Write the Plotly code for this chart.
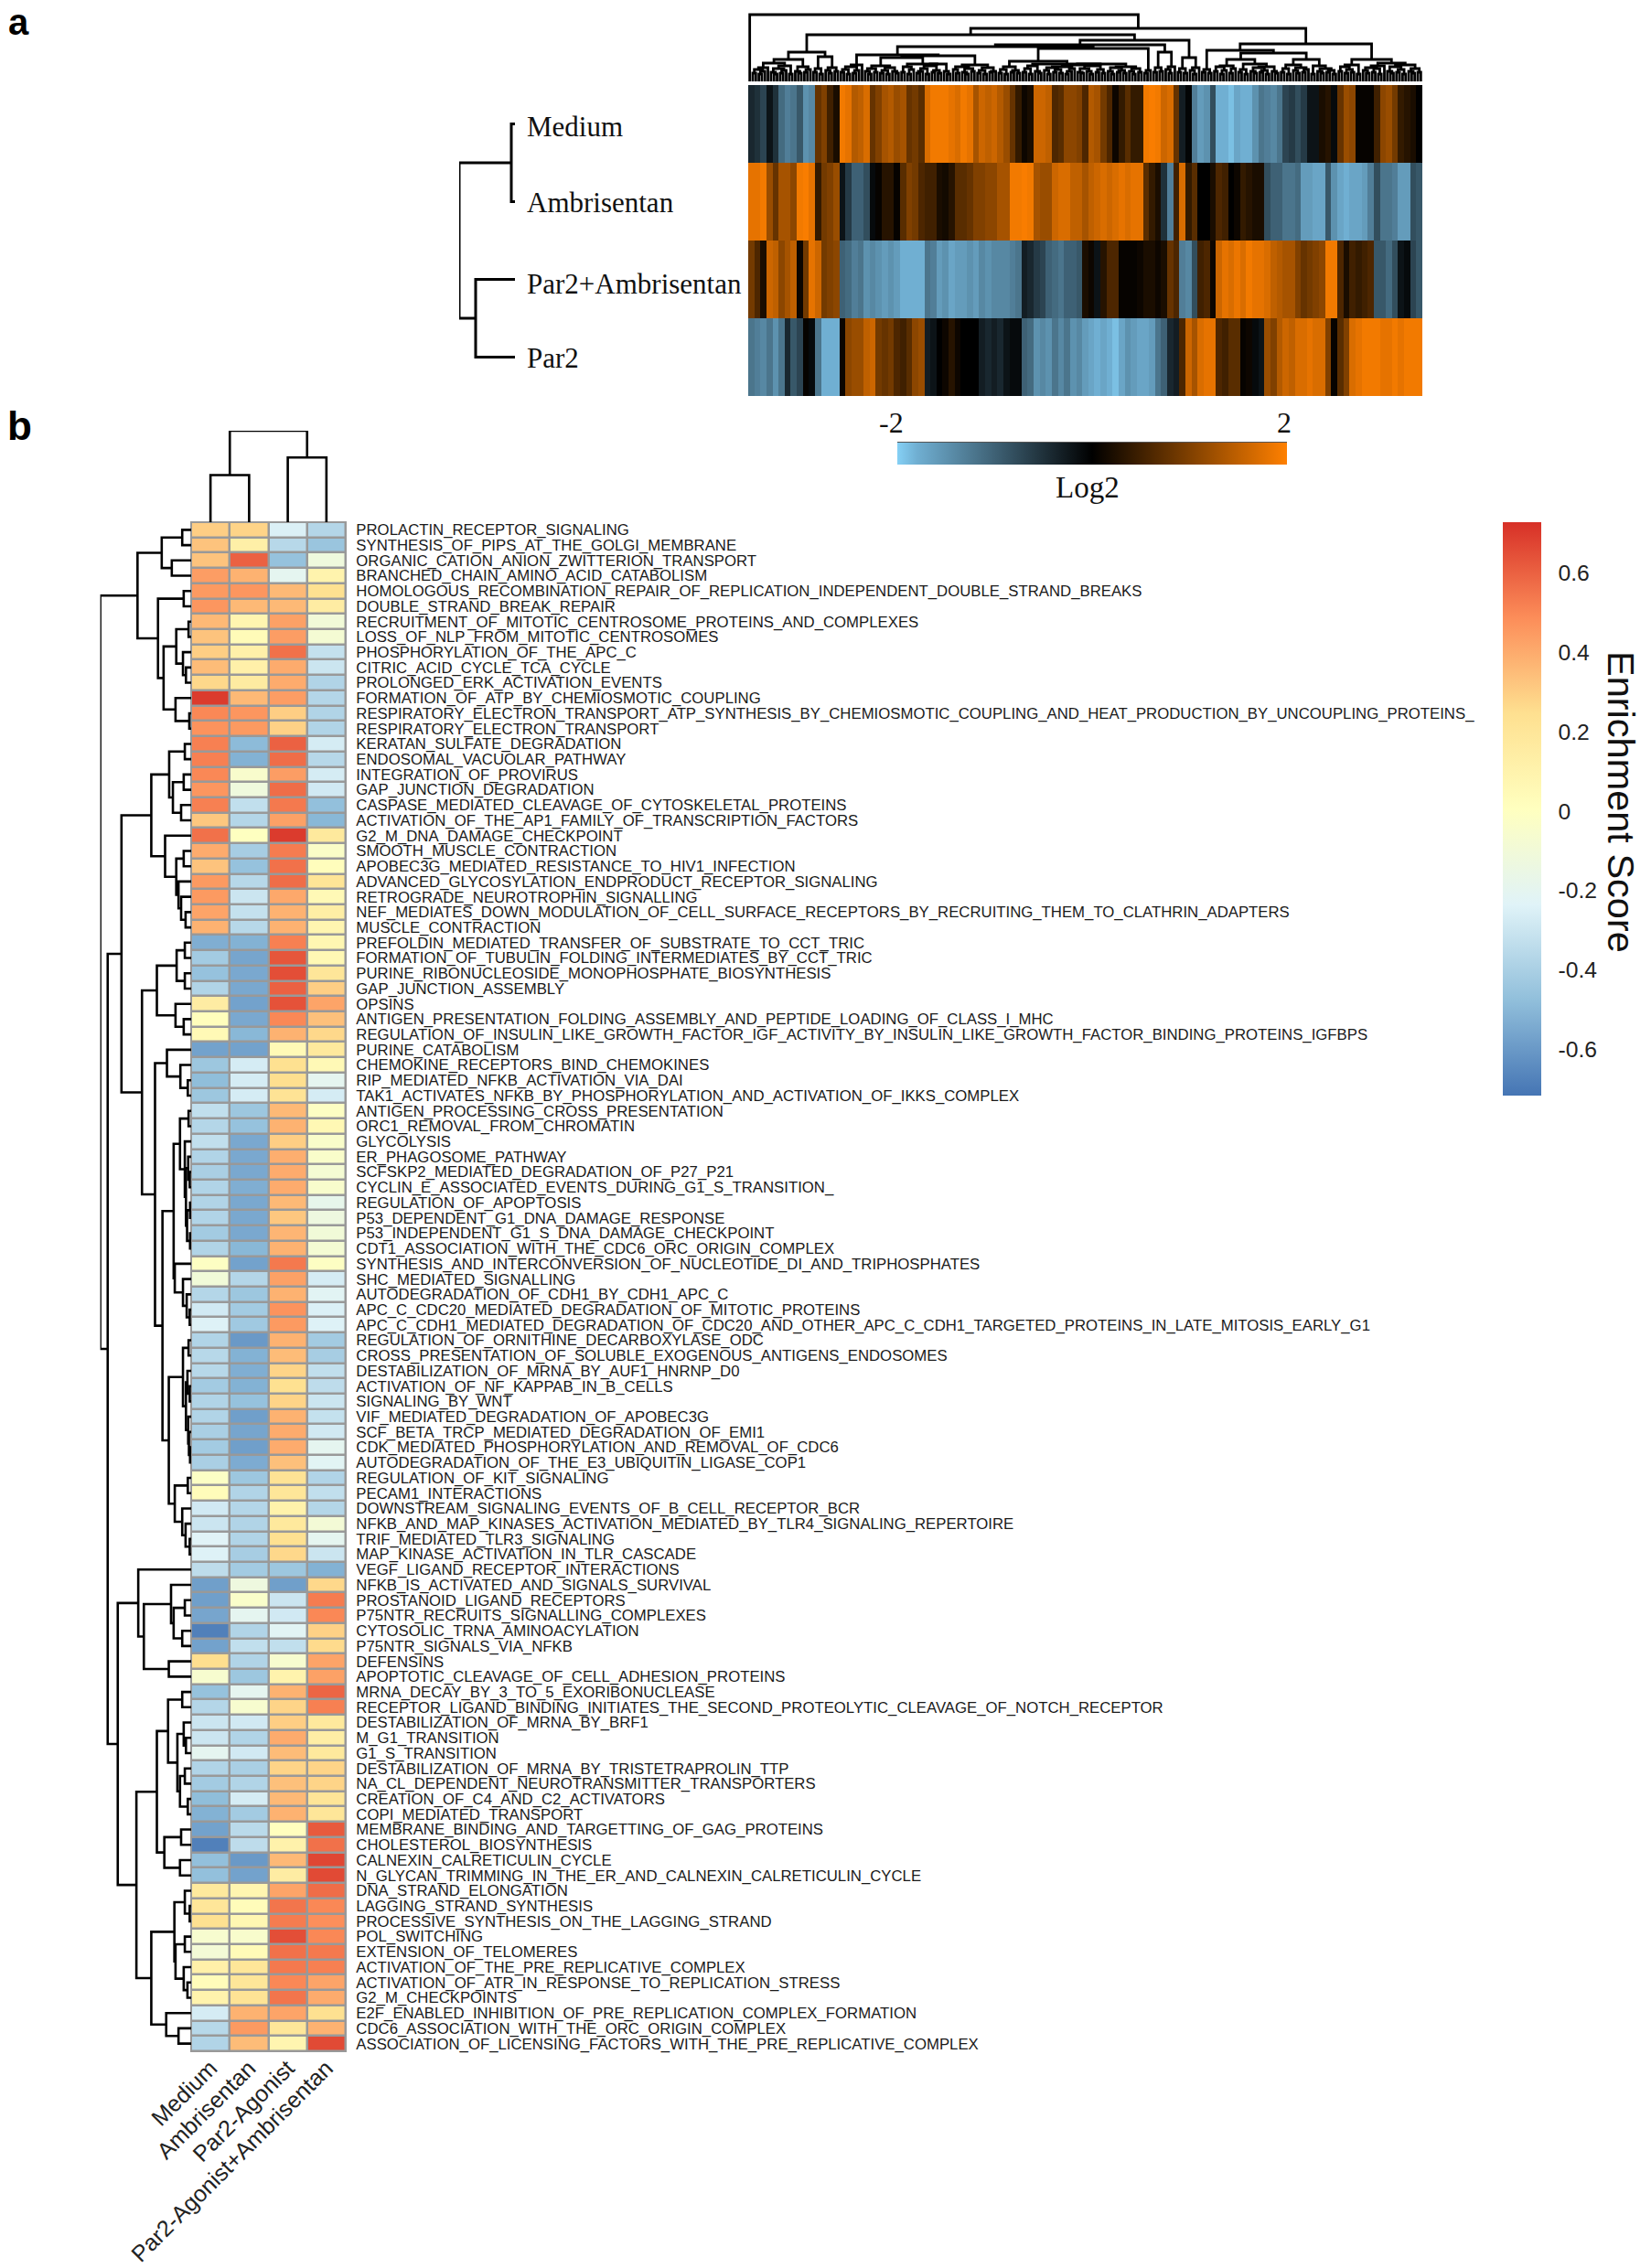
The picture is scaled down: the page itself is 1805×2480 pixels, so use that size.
import plotly.graph_objects as go

W, H = 1805, 2480

# ---------- panel a data ----------
sample_labels = ["Medium", "Ambrisentan", "Par2+Ambrisentan", "Par2"]
log2_medium = [-0.4,-0.5,-0.7,-0.2,-0.5,-1.1,-1.3,-1.2,-0.9,-1.5,-1.4,0.8,1.0,0.5,0.2,1.9,1.8,1.4,1.5,1.7,0.8,1.0,1.3,1.4,1.2,1.3,0.8,0.9,0.7,1.7,1.9,1.9,1.9,1.8,1.7,1.9,1.8,1.3,1.6,1.5,1.6,1.4,1.2,0.8,0.4,0.1,0.2,1.6,1.6,1.5,0.6,0.7,1.1,1.1,1.0,0.6,
               1.4,1.3,0.9,0.6,0.1,0.4,0.7,0.4,0.4,1.9,1.95,1.9,1.6,1.7,0.8,-0.3,-0.05,-1.3,-1.6,-1.5,-0.8,-1.8,-1.8,-1.9,-1.7,-1.8,-1.8,-1.5,-1.2,-1.3,-1.4,-1.2,-0.7,-0.6,-0.8,-0.6,-0.2,-0.2,0.2,0.3,-0.1,0.8,1.2,1.1,0.05,0.05,0.05,0.5,1.1,1.2,0.9,0.4,0.3,0.2,0.0]
log2_ambrisentan = [1.8,1.8,1.9,1.2,0.8,1.3,1.3,1.1,1.9,1.95,1.8,0.4,0.9,1.0,1.2,-0.2,-0.6,-1.0,-1.0,-0.8,-0.1,0.05,0.3,0.3,0.05,0.7,1.0,0.9,0.6,0.5,0.5,0.2,0.15,0.3,0.7,0.7,0.8,1.0,1.0,1.1,1.1,1.3,1.3,1.9,1.9,1.95,1.9,1.3,1.2,1.2,1.6,1.7,1.7,1.5,1.5,1.3,
                    1.5,1.6,1.7,1.6,1.7,1.8,1.7,1.8,1.8,0.7,0.4,0.2,-0.5,-1.3,0.5,1.7,0.4,0.7,0.0,0.0,0.2,0.6,0.5,0.0,0.1,0.4,0.3,0.2,0.2,-0.8,-1.0,-1.0,-1.2,-1.2,-1.1,-1.6,-1.6,-1.7,-1.7,-0.9,-1.5,-1.7,-1.8,-1.7,-1.7,-1.6,-1.3,-0.8,-1.2,-1.2,-1.3,-1.6,-1.6,-0.8,-0.9]
log2_par2_ambrisentan = [0.9,0.6,0.2,1.6,1.5,1.1,1.3,1.5,0.1,0.9,1.8,1.6,0.9,1.0,1.1,-1.0,-1.1,-1.3,-1.2,-1.5,-1.4,-1.5,-1.6,-1.5,-1.6,-1.8,-1.8,-1.8,-1.8,-1.2,-1.3,-1.6,-1.5,-1.7,-1.6,-1.6,-1.5,-1.6,-1.4,-1.5,-1.4,-1.4,-1.4,-1.3,-1.2,-0.3,-0.4,-0.6,-0.7,-1.0,-1.1,-1.2,-1.0,-1.0,-0.9,0.2,
                         0.1,-0.2,0.3,0.6,0.6,0.05,0.05,0.05,0.1,0.2,0.2,0.1,0.2,0.8,0.6,-1.3,-1.4,-0.8,0.5,0.6,0.1,1.6,1.8,1.7,1.85,1.7,1.9,1.8,1.8,1.7,1.5,1.4,1.3,1.3,1.0,0.8,0.9,1.0,1.1,1.9,1.9,0.6,0.2,0.5,0.4,0.5,0.6,-0.9,-0.9,-1.1,-0.8,-0.2,-0.1,-0.7,-0.9]
log2_par2 = [-1.2,-1.3,-1.4,-1.2,-1.5,-1.2,-0.4,-0.9,-0.7,0.05,-0.1,-1.2,-1.8,-1.8,-1.8,0.1,1.1,1.2,1.2,1.5,1.6,0.9,0.8,0.9,0.6,0.5,0.7,1.1,1.2,-0.3,-0.2,0.0,0.1,0.3,0.1,0.0,0.0,0.0,-0.3,-0.4,-0.3,-0.4,-0.2,-0.1,-0.1,-1.0,-1.1,-1.5,-1.4,-1.5,-1.2,-1.4,-1.2,-1.5,-1.4,-1.6,
             -1.7,-1.8,-1.7,-1.8,-1.9,-1.7,-1.5,-1.6,-1.7,-1.7,-1.6,-1.2,-1.0,-0.4,-0.3,0.6,1.6,1.3,1.7,1.8,1.8,0.6,0.5,0.7,0.7,0.05,0.1,-0.1,-0.2,1.2,1.0,1.4,1.6,1.5,1.7,1.7,1.8,1.7,1.7,1.0,0.05,0.7,1.0,1.7,1.8,1.9,1.9,1.9,1.8,1.8,1.9,1.8,1.9,1.9,1.9]

# merge heights between neighbouring leaves of the gene dendrogram
gene_merge_heights = [
    73,9,13,8,11,15,20,10,8,14, 9,12,17,8,24,11,9,16,10,13, 32,10,14,8,27,12,9,15,11,51,
    10,13,8,16,9,12,18,29,11,8, 14,10,17,9,12,8,15,11,9,26, 10,16,8,13,19,9,11,14,8,17,
    10,12,9,19,11,8,28,13,9,16, 10,8,14,11,18,9,12,8,15,10, 11,38,9,13,8,16,10,12,9,22,
    10,14,8,17,11,9,19,12,8,15, 10,13,9,16,8,11,14,18,10,9, 14,11,8,17,10,13,9,19,11,8,
    15,10,12,9,16,11,8,14,10,36, 9,12,40,10,15,11,32,13,9,16, 45,10,14,9,26,12,8,15,58,10,
    13,9,34,11,16,8,12,17,9,14, 24,10,13,8,19,11,9,15,10,12, 8,16,11,9,31,10,14,8,18,12,
    9,15,10,13,24,8,17,11,9,14, 10,12,8,41,11,16,9,13,10,18, 8,24,12,9,15,10,14,8,17,20,
    11,9,16,10,13,8,18,11,9,14, 10]

sample_tree = ((0, 1, 4), (2, 3, 43), 61)

# ---------- panel b data ----------
conditions = ["Medium", "Ambrisentan", "Par2-Agonist", "Par2-Agonist+Ambrisentan"]
pathways = ["PROLACTIN_RECEPTOR_SIGNALING","SYNTHESIS_OF_PIPS_AT_THE_GOLGI_MEMBRANE","ORGANIC_CATION_ANION_ZWITTERION_TRANSPORT","BRANCHED_CHAIN_AMINO_ACID_CATABOLISM",
"HOMOLOGOUS_RECOMBINATION_REPAIR_OF_REPLICATION_INDEPENDENT_DOUBLE_STRAND_BREAKS","DOUBLE_STRAND_BREAK_REPAIR","RECRUITMENT_OF_MITOTIC_CENTROSOME_PROTEINS_AND_COMPLEXES","LOSS_OF_NLP_FROM_MITOTIC_CENTROSOMES",
"PHOSPHORYLATION_OF_THE_APC_C","CITRIC_ACID_CYCLE_TCA_CYCLE","PROLONGED_ERK_ACTIVATION_EVENTS","FORMATION_OF_ATP_BY_CHEMIOSMOTIC_COUPLING",
"RESPIRATORY_ELECTRON_TRANSPORT_ATP_SYNTHESIS_BY_CHEMIOSMOTIC_COUPLING_AND_HEAT_PRODUCTION_BY_UNCOUPLING_PROTEINS_","RESPIRATORY_ELECTRON_TRANSPORT","KERATAN_SULFATE_DEGRADATION","ENDOSOMAL_VACUOLAR_PATHWAY",
"INTEGRATION_OF_PROVIRUS","GAP_JUNCTION_DEGRADATION","CASPASE_MEDIATED_CLEAVAGE_OF_CYTOSKELETAL_PROTEINS","ACTIVATION_OF_THE_AP1_FAMILY_OF_TRANSCRIPTION_FACTORS",
"G2_M_DNA_DAMAGE_CHECKPOINT","SMOOTH_MUSCLE_CONTRACTION","APOBEC3G_MEDIATED_RESISTANCE_TO_HIV1_INFECTION","ADVANCED_GLYCOSYLATION_ENDPRODUCT_RECEPTOR_SIGNALING",
"RETROGRADE_NEUROTROPHIN_SIGNALLING","NEF_MEDIATES_DOWN_MODULATION_OF_CELL_SURFACE_RECEPTORS_BY_RECRUITING_THEM_TO_CLATHRIN_ADAPTERS","MUSCLE_CONTRACTION","PREFOLDIN_MEDIATED_TRANSFER_OF_SUBSTRATE_TO_CCT_TRIC",
"FORMATION_OF_TUBULIN_FOLDING_INTERMEDIATES_BY_CCT_TRIC","PURINE_RIBONUCLEOSIDE_MONOPHOSPHATE_BIOSYNTHESIS","GAP_JUNCTION_ASSEMBLY","OPSINS",
"ANTIGEN_PRESENTATION_FOLDING_ASSEMBLY_AND_PEPTIDE_LOADING_OF_CLASS_I_MHC","REGULATION_OF_INSULIN_LIKE_GROWTH_FACTOR_IGF_ACTIVITY_BY_INSULIN_LIKE_GROWTH_FACTOR_BINDING_PROTEINS_IGFBPS","PURINE_CATABOLISM","CHEMOKINE_RECEPTORS_BIND_CHEMOKINES",
"RIP_MEDIATED_NFKB_ACTIVATION_VIA_DAI","TAK1_ACTIVATES_NFKB_BY_PHOSPHORYLATION_AND_ACTIVATION_OF_IKKS_COMPLEX","ANTIGEN_PROCESSING_CROSS_PRESENTATION","ORC1_REMOVAL_FROM_CHROMATIN",
"GLYCOLYSIS","ER_PHAGOSOME_PATHWAY","SCFSKP2_MEDIATED_DEGRADATION_OF_P27_P21","CYCLIN_E_ASSOCIATED_EVENTS_DURING_G1_S_TRANSITION_",
"REGULATION_OF_APOPTOSIS","P53_DEPENDENT_G1_DNA_DAMAGE_RESPONSE","P53_INDEPENDENT_G1_S_DNA_DAMAGE_CHECKPOINT","CDT1_ASSOCIATION_WITH_THE_CDC6_ORC_ORIGIN_COMPLEX",
"SYNTHESIS_AND_INTERCONVERSION_OF_NUCLEOTIDE_DI_AND_TRIPHOSPHATES","SHC_MEDIATED_SIGNALLING","AUTODEGRADATION_OF_CDH1_BY_CDH1_APC_C","APC_C_CDC20_MEDIATED_DEGRADATION_OF_MITOTIC_PROTEINS",
"APC_C_CDH1_MEDIATED_DEGRADATION_OF_CDC20_AND_OTHER_APC_C_CDH1_TARGETED_PROTEINS_IN_LATE_MITOSIS_EARLY_G1","REGULATION_OF_ORNITHINE_DECARBOXYLASE_ODC","CROSS_PRESENTATION_OF_SOLUBLE_EXOGENOUS_ANTIGENS_ENDOSOMES","DESTABILIZATION_OF_MRNA_BY_AUF1_HNRNP_D0",
"ACTIVATION_OF_NF_KAPPAB_IN_B_CELLS","SIGNALING_BY_WNT","VIF_MEDIATED_DEGRADATION_OF_APOBEC3G","SCF_BETA_TRCP_MEDIATED_DEGRADATION_OF_EMI1",
"CDK_MEDIATED_PHOSPHORYLATION_AND_REMOVAL_OF_CDC6","AUTODEGRADATION_OF_THE_E3_UBIQUITIN_LIGASE_COP1","REGULATION_OF_KIT_SIGNALING","PECAM1_INTERACTIONS",
"DOWNSTREAM_SIGNALING_EVENTS_OF_B_CELL_RECEPTOR_BCR","NFKB_AND_MAP_KINASES_ACTIVATION_MEDIATED_BY_TLR4_SIGNALING_REPERTOIRE","TRIF_MEDIATED_TLR3_SIGNALING","MAP_KINASE_ACTIVATION_IN_TLR_CASCADE",
"VEGF_LIGAND_RECEPTOR_INTERACTIONS","NFKB_IS_ACTIVATED_AND_SIGNALS_SURVIVAL","PROSTANOID_LIGAND_RECEPTORS","P75NTR_RECRUITS_SIGNALLING_COMPLEXES",
"CYTOSOLIC_TRNA_AMINOACYLATION","P75NTR_SIGNALS_VIA_NFKB","DEFENSINS","APOPTOTIC_CLEAVAGE_OF_CELL_ADHESION_PROTEINS",
"MRNA_DECAY_BY_3_TO_5_EXORIBONUCLEASE","RECEPTOR_LIGAND_BINDING_INITIATES_THE_SECOND_PROTEOLYTIC_CLEAVAGE_OF_NOTCH_RECEPTOR","DESTABILIZATION_OF_MRNA_BY_BRF1","M_G1_TRANSITION",
"G1_S_TRANSITION","DESTABILIZATION_OF_MRNA_BY_TRISTETRAPROLIN_TTP","NA_CL_DEPENDENT_NEUROTRANSMITTER_TRANSPORTERS","CREATION_OF_C4_AND_C2_ACTIVATORS",
"COPI_MEDIATED_TRANSPORT","MEMBRANE_BINDING_AND_TARGETTING_OF_GAG_PROTEINS","CHOLESTEROL_BIOSYNTHESIS","CALNEXIN_CALRETICULIN_CYCLE",
"N_GLYCAN_TRIMMING_IN_THE_ER_AND_CALNEXIN_CALRETICULIN_CYCLE","DNA_STRAND_ELONGATION","LAGGING_STRAND_SYNTHESIS","PROCESSIVE_SYNTHESIS_ON_THE_LAGGING_STRAND",
"POL_SWITCHING","EXTENSION_OF_TELOMERES","ACTIVATION_OF_THE_PRE_REPLICATIVE_COMPLEX","ACTIVATION_OF_ATR_IN_RESPONSE_TO_REPLICATION_STRESS",
"G2_M_CHECKPOINTS","E2F_ENABLED_INHIBITION_OF_PRE_REPLICATION_COMPLEX_FORMATION","CDC6_ASSOCIATION_WITH_THE_ORC_ORIGIN_COMPLEX","ASSOCIATION_OF_LICENSING_FACTORS_WITH_THE_PRE_REPLICATIVE_COMPLEX"]

score_medium = [.3,.33,.33,.44,.45,.46,.36,.33,.3,.35,.27,.7,.5,.47,.52,.52,.5,.46,.52,.32,.56,.4,.33,.45,.45,.42,.38,
    -.53,-.42,-.46,-.38,.15,.02,.05,-.57,-.44,-.48,-.44,-.33,-.37,-.33,-.38,-.4,-.38,-.38,-.38,-.42,-.38,-.01,-.1,-.37,-.28,-.24,-.38,-.36,-.36,-.42,-.38,-.38,-.4,-.42,-.4,-.02,.03,-.28,-.3,-.23,-.24,-.34,
    -.58,-.58,-.56,-.68,-.57,.25,-.06,-.46,-.37,-.3,-.3,-.2,-.38,-.42,-.48,-.52,-.57,-.68,-.47,-.47,.18,.2,.24,-.06,-.09,.12,.03,.1,-.27,-.36,-.38]
score_ambrisentan = [.28,.13,.6,.38,.46,.36,.08,.04,.12,.12,.16,.36,.46,.45,-.49,-.52,-.05,-.12,-.33,-.37,0,-.41,-.46,-.36,-.3,-.32,-.36,
    -.52,-.56,-.55,-.55,-.57,-.55,-.5,-.57,-.27,-.27,-.27,-.44,-.46,-.55,-.55,-.55,-.53,-.55,-.55,-.55,-.5,-.57,-.37,-.44,-.42,-.43,-.6,-.52,-.53,-.52,-.46,-.58,-.56,-.58,-.54,-.44,-.38,-.37,-.38,-.38,-.41,-.42,
    -.13,-.04,-.2,-.38,-.33,-.38,-.44,-.2,-.06,-.28,-.38,-.28,-.4,-.38,-.27,-.42,-.35,-.34,-.6,-.57,.08,.03,.07,-.05,.04,.2,.2,.22,.38,.45,.35]
score_par2 = [-.25,-.36,-.46,-.2,.36,.36,.43,.44,.56,.4,.4,.44,.3,.29,.6,.57,.44,.57,.54,.43,.7,.53,.56,.57,.41,.38,.38,
    .52,.63,.65,.6,.64,.5,.38,.05,.24,.25,.22,.36,.38,.3,.39,.4,.4,.36,.32,.37,.38,.54,.43,.38,.47,.45,.38,.35,.28,.24,.28,.38,.4,.4,.34,.22,.2,.11,.18,.24,.27,-.44,
    -.58,-.3,-.28,-.22,-.33,-.06,.1,.38,.28,.3,.4,.35,.28,.34,.36,.38,.01,.11,.36,.15,.42,.55,.53,.65,.56,.54,.5,.55,.42,.2,.08]
score_par2_ambrisentan = [-.37,-.45,-.12,.1,.24,.15,-.1,-.08,-.32,-.3,-.38,-.37,-.38,-.38,-.27,-.36,-.27,-.28,-.47,-.5,.18,-.03,.02,.21,.05,.14,.08,
    .07,.06,.2,.3,.42,.34,.27,.18,.05,-.2,-.27,-.01,.06,-.04,-.04,-.08,-.05,-.18,-.13,-.1,-.08,-.01,-.27,-.22,-.25,-.24,-.42,-.41,-.33,-.34,-.3,-.32,-.28,-.2,-.22,-.38,-.33,-.37,-.09,-.2,-.3,-.52,
    .27,.53,.5,.29,.26,.42,.43,.59,.52,.18,.14,.18,.28,.28,.21,.2,.62,.56,.67,.66,.57,.5,.48,.5,.54,.52,.42,.4,.24,.38,.66]
score_ticks = [-0.6, -0.4, -0.2, 0, 0.2, 0.4, 0.6]
score_tick_text = ["-0.6", "-0.4", "-0.2", "0", "0.2", "0.4", "0.6"]

condition_tree = ((0, 1, 51), (2, 3, 70), 99)

# row tree: (child, child, merge height); leaves are row numbers counted from 1
rows_1_14 = (((1,2,24),(3,4,52),79),
             ((5,6,20),(((7,8,7),(9,(10,11,14),22),40),(12,(13,14,5),42),74),89),144)
rows_15_27 = (((15,16,17),((17,18,20),(19,20,27),49),59),
              (21,((22,23,20),(24,(25,(26,27,15),27),34),40),70),107)
rows_28_34 = (((28,29,17),(30,31,17),39),(32,(33,34,20),42),92)
rows_35_38 = (35,(36,(37,38,9),29),65)
rows_39_53 = (((39,40,7),(41,((42,(43,44,4),8),((45,46,3),(47,48,3),11),14),17),30),
              (49,(50,(51,(52,53,4),12),22),44),47)
rows_54_68 = (((54,55,7),((56,(57,58,4),10),(59,(60,(61,62,3),6),8),14),22),
              ((63,64,9),(65,(66,(67,68,4),15),24),44),60)
rows_28_68 = (rows_28_34,(rows_35_38,(rows_39_53,rows_54_68,77),97),132)
rows_69_76 = (69,((70,((71,72,17),(73,74,24),47),54),(75,76,60),127),142)
rows_77_89 = (((77,78,24),((79,(80,81,14),20),((82,83,17),(84,85,9),30),37),62),
              ((86,87,27),(88,89,30),72),92)
rows_90_100 = (((90,(91,92,4),17),((93,94,17),(95,(96,97,10),20),42),45),
               (98,(99,100,34),67),107)
rows_15_68 = (rows_15_27,rows_28_68,187)
rows_69_100 = (rows_69_76,(rows_77_89,rows_90_100,147),197)
row_tree = (rows_1_14,(rows_15_68,rows_69_100,224),244)

# ---------- colour scales ----------
log2_colors = [[0,"#85D0F5"],[0.05,"#70AFD2"],[0.5,"#000000"],[1,"#FF8000"]]
score_colors = [[i/6,c] for i,c in enumerate(["#4575B4","#91BFDB","#E0F3F8","#FFFFBF","#FEE090","#FC8D59","#D73027"])]

# ---------- helpers ----------
def from_gaps(g, l, r):
    if l == r:
        return l
    k = max(range(l, r), key=lambda i: g[i])
    return (from_gaps(g, l, k), from_gaps(g, k+1, r), g[k])

def segments(node, offset=0):
    """returns leaf position, height, positions list, heights list"""
    if isinstance(node, int):
        return node-offset, 0, [], []
    pa, ha, xa, ya = segments(node[0], offset)
    pb, hb, xb, yb = segments(node[1], offset)
    h = node[2]
    return (pa+pb)/2, h, xa+xb+[pa,pa,pb,pb,None], ya+yb+[ha,h,h,hb,None]

def dx(a, b):
    return [a/W, b/W]
def dy(top, bottom):
    return [1-bottom/H, 1-top/H]

hidden = dict(visible=False, fixedrange=True, showgrid=False, zeroline=False)

fig = go.Figure()

# panel a heatmap
fig.add_trace(go.Heatmap(
    z=[log2_medium, log2_ambrisentan, log2_par2_ambrisentan, log2_par2],
    y=sample_labels, zmin=-2, zmax=2, colorscale=log2_colors, xaxis="x", yaxis="y",
    colorbar=dict(orientation="h", x=981/W, xanchor="left", y=1-484/H, yanchor="top",
                  len=426/W, lenmode="fraction", thickness=24, thicknessmode="pixels",
                  outlinewidth=0, xpad=0, ypad=0, showticklabels=False, ticks="")))

# panel a gene dendrogram
_, _, xs, ys = segments(from_gaps(gene_merge_heights, 0, len(gene_merge_heights)))
fig.add_trace(go.Scatter(x=xs, y=ys, mode="lines", line=dict(color="#000", width=2.8),
                         xaxis="x2", yaxis="y2", showlegend=False, hoverinfo="skip"))

# panel a sample dendrogram
ys, _, xs, hs = segments(sample_tree)
fig.add_trace(go.Scatter(x=hs, y=xs, mode="lines", line=dict(color="#000", width=3),
                         xaxis="x3", yaxis="y3", showlegend=False, hoverinfo="skip"))

# panel b heatmap
score_rows = [list(r) for r in zip(score_medium, score_ambrisentan, score_par2, score_par2_ambrisentan)]
fig.add_trace(go.Heatmap(
    z=score_rows, x=conditions, y=pathways, zmin=-0.717, zmax=0.728, colorscale=score_colors,
    xgap=2.5, ygap=2.5, xaxis="x4", yaxis="y4",
    colorbar=dict(x=1643/W, xanchor="left", y=1-571/H, yanchor="top", len=627/H, lenmode="fraction",
                  thickness=42, thicknessmode="pixels", outlinewidth=0, xpad=0, ypad=0,
                  tickmode="array", tickvals=score_ticks, ticktext=score_tick_text,
                  ticks="outside", ticklen=14, tickcolor="rgba(0,0,0,0)",
                  tickfont=dict(family="Liberation Sans", size=24.7, color="#222"))))

# panel b condition dendrogram
_, _, xs, ys = segments(condition_tree)
fig.add_trace(go.Scatter(x=xs, y=ys, mode="lines", line=dict(color="#000", width=2.6),
                         xaxis="x5", yaxis="y5", showlegend=False, hoverinfo="skip"))

# panel b pathway dendrogram (leaves are 1-based rows)
_, _, ps, hs = segments(row_tree, offset=1)
fig.add_trace(go.Scatter(x=hs, y=ps, mode="lines", line=dict(color="#000", width=2.6),
                         xaxis="x6", yaxis="y6", showlegend=False, hoverinfo="skip"))

annos = []
def note(text, x, y, size, family="Liberation Serif", xanchor="center", angle=0, bold=False, color="#111"):
    annos.append(dict(text=f"<b>{text}</b>" if bold else text, x=x/W, y=1-y/H, xref="paper", yref="paper",
                      showarrow=False, xanchor=xanchor, yanchor="middle", textangle=angle,
                      font=dict(family=family, size=size, color=color)))

note("a", 20, 24, 40, "Liberation Sans", bold=True, color="#000")
note("b", 21, 466, 44, "Liberation Sans", bold=True, color="#000")
for lab, yp in zip(sample_labels, [139, 221, 311, 391]):
    note(lab, 574, yp, 31, xanchor="left")
note("-2", 975, 462, 32)
note("2", 1404, 462, 32)
note("Log2", 1189, 533, 33)
note("Enrichment Score", 1773, 877, 41.5, "Liberation Sans", angle=90)

fig.update_layout(
    width=W, height=H, margin=dict(l=0, r=0, t=0, b=0), autosize=False,
    paper_bgcolor="white", plot_bgcolor="white", showlegend=False, annotations=annos,
    xaxis=dict(domain=dx(818,1555), anchor="y", **hidden),
    yaxis=dict(domain=dy(93,433), anchor="x", autorange=False, range=[3.5,-0.5], type="category", **hidden),
    xaxis2=dict(domain=dx(818,1555), anchor="y2", range=[-0.5,221.5], **hidden),
    yaxis2=dict(domain=dy(9,89), anchor="x2", range=[0,80], **hidden),
    xaxis3=dict(domain=dx(502,563), anchor="y3", range=[61,0], **hidden),
    yaxis3=dict(domain=dy(93,433), anchor="x3", range=[3.5,-0.5], **hidden),
    xaxis4=dict(domain=dx(209,378), anchor="y4", type="category", tickangle=-45, showgrid=False, zeroline=False,
                fixedrange=True, ticks="", ticklabelstandoff=-2,
                tickfont=dict(family="Liberation Sans", size=25, color="#222"), automargin=False),
    yaxis4=dict(domain=dy(571,2243), anchor="x4", type="category", side="right", autorange=False, range=[99.5,-0.5],
                tickmode="linear", dtick=1, tick0=0, showgrid=False, zeroline=False, fixedrange=True,
                ticks="outside", ticklen=7, tickcolor="rgba(0,0,0,0)",
                tickfont=dict(family="Liberation Sans", size=16.75, color="#1a1a1a"), automargin=False),
    xaxis5=dict(domain=dx(209,378), anchor="y5", range=[-0.5,3.5], **hidden),
    yaxis5=dict(domain=dy(471,571), anchor="x5", range=[0,99], **hidden),
    xaxis6=dict(domain=dx(109.6,209), anchor="y6", range=[244,0], **hidden),
    yaxis6=dict(domain=dy(571,2243), anchor="x6", range=[99.5,-0.5], **hidden),
    shapes=[
        dict(type="rect", xref="x4 domain", yref="y4 domain", x0=0, x1=1, y0=0, y1=1, layer="below",
             fillcolor="#999999", line=dict(color="#999999", width=2)),
        dict(type="line", xref="paper", yref="paper", x0=981/W, x1=1407/W, y0=1-484/H, y1=1-484/H,
             line=dict(color="#555555", width=2)),
    ],
)

fig.write_html("out.html", config={"displayModeBar": False},
               post_script="document.body.style.margin='0';")
